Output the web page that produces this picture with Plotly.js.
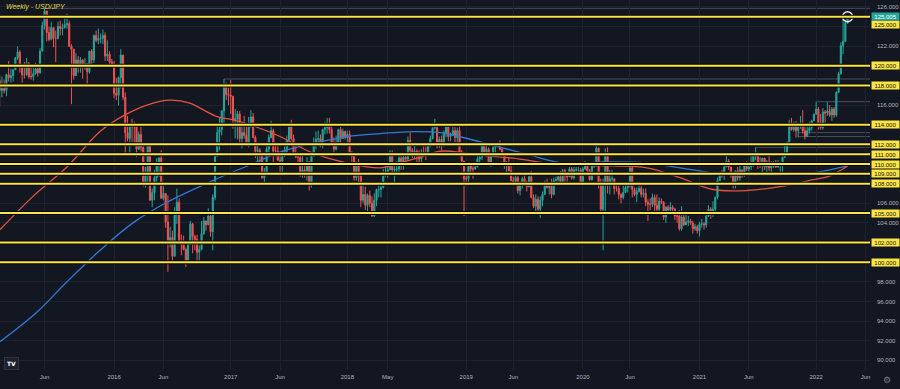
<!DOCTYPE html>
<html><head><meta charset="utf-8">
<script src="https://cdn.plot.ly/plotly-3.0.1.min.js"></script>
<style>html,body{margin:0;padding:0;background:#131722;}#chart{width:900px;height:389px;}</style>
</head><body><div id="chart"></div>
<script>
// Weekly USD/JPY candles, one per week starting Monday 2015-01-05
const firstWeek = '2015-01-05';
const firstOpen = 120.5;

const weeklyHigh = [
120.8,119.1,118.9,118.6,119.2,120.5,119.7,119.6,120.9,122.0,121.6,120.2,120.4,120.8,120.4,120.1,119.9,120.3,120.1,121.8,124.5,125.86,125.4,124.0,124.5,123.8,123.6,124.5,124.6,124.3,125.0,125.3,124.6,122.2,121.7,121.3,121.0,120.9,120.7,120.8,120.3,121.5,121.7,123.2,123.6,123.8,123.3,123.7,123.4,122.6,121.5,120.7,
120.5,118.8,118.9,121.7,121.1,117.3,114.9,114.0,114.6,114.3,114.1,113.3,113.8,111.8,109.7,111.9,111.9,107.5,109.4,110.6,110.7,111.4,107.9,107.0,106.8,103.6,103.2,105.6,107.5,106.5,102.8,102.7,101.5,102.0,104.2,104.0,102.8,102.8,101.7,104.2,104.6,104.2,105.5,105.0,106.9,111.0,113.9,114.8,115.5,118.66,118.3,117.8,
118.6,116.9,115.6,115.4,115.4,113.9,114.9,113.8,114.8,115.5,115.2,112.9,112.2,111.6,111.2,109.6,111.8,113.0,114.4,113.6,112.1,111.9,110.8,111.4,111.8,112.9,114.2,114.5,113.0,112.2,111.0,111.0,110.9,109.8,110.7,110.3,111.0,112.7,113.3,113.4,113.0,113.6,114.3,114.7,114.7,113.9,112.7,112.9,113.6,113.8,113.6,113.4,
113.4,113.4,111.3,110.9,110.2,110.5,108.9,107.9,107.7,107.0,107.3,106.7,107.0,107.5,107.8,107.9,109.5,110.0,110.0,111.4,111.4,109.8,110.3,110.9,110.8,111.1,111.1,112.8,113.2,111.6,112.2,111.5,111.4,111.5,111.8,111.8,112.2,112.9,113.7,114.6,113.9,112.8,112.9,113.4,114.1,114.0,113.2,114.0,113.8,113.7,113.8,111.4,110.1,
108.9,109.9,109.9,109.8,110.2,111.1,110.9,112.1,112.1,111.9,111.7,111.0,111.8,112.1,112.2,112.4,111.7,111.1,110.3,110.7,109.9,108.7,108.8,108.8,108.2,108.7,108.9,108.3,108.8,109.3,106.9,106.9,106.7,106.7,107.2,108.3,108.5,108.0,108.5,108.6,108.7,108.8,109.3,109.5,109.5,109.0,109.7,109.7,109.7,109.7,109.7,109.6,
109.7,110.3,110.2,109.5,110.0,110.1,112.2,111.7,108.5,108.5,111.6,111.7,109.4,109.4,108.1,108.0,107.8,107.0,107.8,108.1,108.1,109.9,109.8,107.6,107.6,108.2,107.8,107.5,107.5,106.4,106.5,107.0,106.9,106.9,106.6,106.5,106.2,105.7,105.8,106.1,105.8,105.5,105.0,105.3,105.7,104.8,104.8,104.7,104.4,104.2,103.9,103.8,
104.1,104.4,104.1,104.9,105.8,105.6,106.2,106.7,108.6,109.2,109.4,109.9,110.97,110.5,109.7,108.9,109.3,109.7,109.8,109.3,110.2,110.3,109.8,110.8,110.9,111.7,111.2,110.7,110.6,110.6,110.4,110.8,110.3,110.3,110.4,110.4,110.1,110.8,112.1,112.3,114.5,114.7,114.3,114.4,114.2,114.9,115.5,113.9,113.9,114.3,114.5,115.1,
116.35,115.8,115.1,115.7,115.5,116.3,116.0,115.8,115.8,117.4,119.4,122.4,125.1,124.7,125.1
];

const weeklyLow = [
118.1,115.85,116.8,117.2,116.9,118.4,118.3,118.4,119.6,120.6,119.3,118.3,118.7,119.0,118.7,118.6,118.5,119.1,118.9,119.2,121.5,123.7,122.5,122.5,122.6,121.9,120.4,122.7,123.1,123.1,123.8,123.8,122.0,116.1,118.6,119.0,119.3,119.3,118.7,119.6,118.1,119.2,120.1,120.3,122.4,122.2,122.3,122.2,120.5,120.5,120.1,120.0,
116.7,116.5,115.97,117.7,116.5,110.98,112.3,111.0,112.2,112.2,110.7,111.4,111.3,107.7,107.6,107.9,106.3,105.6,106.3,108.2,108.7,106.5,106.3,103.5,99.0,101.5,99.98,100.6,103.9,102.0,100.7,101.2,99.5,99.9,101.8,100.9,101.2,100.1,100.1,101.2,102.8,103.2,103.8,102.6,101.2,106.3,110.7,111.4,112.9,113.8,116.5,116.0,
115.1,113.6,112.6,112.5,112.1,111.6,112.6,112.1,111.7,113.7,112.6,110.6,110.1,110.1,108.5,108.1,109.3,111.0,112.6,110.2,110.8,110.3,109.1,108.8,110.7,110.9,112.1,112.4,110.9,110.6,109.9,108.7,108.6,108.6,108.3,107.3,107.6,110.9,111.5,112.0,111.7,111.6,113.0,113.1,113.1,112.0,111.1,111.4,112.0,112.0,112.6,112.5,
112.0,110.9,110.2,108.3,108.3,108.1,105.6,106.0,105.3,105.2,105.6,104.6,104.6,105.7,106.6,106.6,107.5,108.7,108.6,109.4,108.9,108.1,109.1,109.2,109.4,109.4,110.3,110.3,110.8,110.6,110.6,110.1,110.1,109.8,110.7,110.4,110.8,111.7,112.5,113.5,111.6,111.6,111.4,111.8,112.7,112.3,112.3,112.9,112.2,112.2,110.8,109.9,104.7,
107.8,107.9,109.2,108.5,109.4,109.7,110.2,110.4,110.8,110.8,109.8,109.7,110.8,110.8,111.8,111.4,110.9,109.5,109.0,109.3,108.3,107.8,108.0,107.0,106.8,107.5,107.8,107.2,107.6,106.5,105.5,105.1,105.1,104.5,105.7,106.9,107.5,106.9,106.5,106.8,108.2,108.2,107.9,108.2,108.2,108.2,108.7,108.4,108.4,109.2,109.2,107.9,
107.8,109.4,109.0,108.3,108.3,109.6,109.8,107.5,105.0,101.2,105.2,107.0,106.9,107.9,106.9,107.2,106.4,106.0,106.4,107.2,107.1,107.6,106.6,106.7,106.1,107.1,106.6,106.6,105.7,104.2,105.3,105.6,105.1,105.2,104.9,105.9,104.3,104.0,105.0,105.2,104.9,104.3,104.0,103.2,103.2,103.7,103.8,103.7,103.8,102.9,103.2,102.9,
102.6,103.5,103.3,103.5,104.6,104.4,104.6,105.0,106.4,108.3,108.6,108.4,109.7,109.4,108.6,107.5,107.5,108.3,108.3,108.6,108.7,109.3,109.2,109.4,109.7,110.4,109.5,109.6,109.1,109.4,109.1,109.3,109.1,109.6,109.6,109.6,109.1,109.1,110.6,110.8,112.1,113.4,113.3,112.7,112.7,113.6,113.1,112.5,113.0,113.1,113.4,114.4,
115.0,113.5,113.5,113.5,114.2,114.9,114.8,114.4,114.7,114.8,117.3,119.1,121.2,122.4,124.3
];

const weeklyClose = [
118.5,117.5,117.7,117.5,119.1,118.8,119.0,119.6,120.8,121.4,120.0,119.1,119.1,120.2,118.9,118.9,119.2,119.7,119.3,121.5,124.1,125.6,123.4,122.7,123.9,122.8,122.8,124.0,123.8,123.9,124.2,124.3,122.0,121.7,119.0,120.6,119.9,120.6,119.9,120.2,119.4,121.5,120.6,123.1,122.6,122.8,122.8,123.1,121.0,121.2,120.4,120.2,
117.2,117.0,118.8,121.1,116.8,113.2,112.6,114.0,113.8,113.8,111.5,113.0,111.7,108.1,108.8,111.8,106.3,107.1,108.6,110.2,110.6,106.5,107.0,104.1,102.2,102.5,100.6,104.8,106.1,102.1,101.8,101.3,100.2,101.8,103.9,102.6,102.3,101.0,101.3,102.9,104.2,103.8,104.7,103.1,106.6,110.9,113.2,113.5,115.4,117.9,117.1,117.0,
116.9,114.5,114.6,115.1,112.6,113.2,112.9,112.1,114.1,114.8,112.7,111.3,111.4,111.1,108.6,109.0,111.5,112.7,113.4,111.3,111.3,110.4,110.3,110.9,111.3,112.4,113.9,112.6,111.1,110.7,110.7,109.2,109.4,109.3,110.2,107.8,110.8,112.0,112.5,112.6,111.8,113.5,113.7,114.1,113.5,112.1,111.5,112.2,113.5,112.6,113.3,112.7,
113.0,111.1,110.8,108.6,110.2,108.8,106.3,106.9,105.8,106.8,106.0,104.7,106.3,107.4,107.4,107.6,109.0,109.1,109.4,110.8,109.4,109.5,109.5,110.6,109.9,110.7,110.5,112.4,111.4,111.1,111.3,110.9,110.5,111.2,111.0,111.0,112.1,112.6,113.7,113.7,112.2,112.5,111.9,113.2,113.8,112.8,112.9,113.4,112.7,113.4,111.2,110.3,108.5,
108.5,109.8,109.5,109.5,109.7,110.5,110.7,111.9,111.2,111.5,110.1,110.9,111.7,112.0,111.9,111.5,111.1,109.9,110.1,109.3,108.3,108.2,108.6,107.3,107.9,108.5,107.9,107.7,108.7,106.6,105.7,106.4,105.4,106.3,106.9,108.1,107.6,107.9,106.9,108.3,108.4,108.7,108.2,109.3,108.8,108.7,109.5,108.6,109.4,109.4,109.4,108.1,
109.5,110.1,109.3,108.4,109.8,109.8,111.6,108.1,105.4,107.9,110.8,107.9,108.5,108.5,107.5,107.5,106.9,106.6,107.1,107.6,107.8,109.6,107.4,106.9,107.2,107.5,106.9,107.0,106.1,105.9,105.9,106.6,105.8,105.4,106.2,106.1,104.6,105.6,105.3,105.6,105.4,104.7,104.7,103.4,104.6,103.8,104.1,104.2,104.0,103.4,103.6,103.2,
103.9,103.9,103.8,104.7,105.4,104.9,105.4,106.6,108.3,109.0,108.9,109.7,110.3,109.7,108.8,107.9,109.3,108.6,109.4,109.0,109.9,109.5,109.7,110.2,110.8,111.0,110.1,110.1,110.6,109.7,110.2,109.6,109.8,109.8,109.7,109.9,109.9,110.7,111.0,112.2,114.2,113.5,114.0,113.4,114.0,114.0,113.4,112.8,113.4,113.7,114.4,115.1,
115.6,114.2,113.7,115.3,115.2,115.4,115.0,115.6,115.0,117.3,119.2,122.05,122.5,124.35,125.0
];

// 100-week SMA (red)
const sma100Dates = ['2015-01-13','2015-04-26','2015-08-10','2015-11-21','2016-02-07','2016-04-25','2016-06-27','2016-08-28','2016-09-28','2016-11-23','2017-01-09','2017-03-03','2017-06-05','2017-09-16','2018-01-01','2018-04-13','2018-06-05','2018-08-16','2018-10-17','2018-12-19','2019-02-19','2019-06-02','2019-09-16','2019-12-28','2020-04-09','2020-07-24','2020-11-04','2021-02-15','2021-06-01','2021-09-12','2021-12-24','2022-02-15','2022-04-11'];
const sma100Values = [103.3,106.7,109.7,113.3,115.0,116.1,116.5,116.2,115.7,114.8,114.5,114.0,112.8,111.1,110.1,109.6,110.0,110.7,111.3,111.2,110.9,110.6,110.1,109.9,109.8,109.6,108.6,107.4,107.3,107.7,108.4,108.8,109.8];

// 200-week SMA (blue)
const sma200Dates = ['2015-01-13','2015-05-08','2015-08-10','2015-11-21','2016-03-03','2016-06-17','2016-11-20','2017-03-03','2017-06-05','2017-09-16','2018-01-01','2018-04-13','2018-07-25','2018-10-17','2018-12-28','2019-04-13','2019-07-25','2019-11-05','2020-02-29','2020-07-24','2020-11-04','2021-02-15','2021-06-01','2021-09-12','2021-12-24','2022-04-11'];
const sma200Values = [91.9,94.9,98.0,101.2,104.0,106.1,108.5,109.9,111.2,112.1,112.8,113.1,113.3,113.2,112.7,111.8,110.9,110.1,110.2,110.1,109.6,109.1,108.9,108.9,109.1,109.8];

// Drawn levels
const yellowLevels = [125,120,118,114,112,111,110,109,108,105,102,100];
const grayRayLevels = [125.86,118.66,116.35,111.7,113.2,112.8];
const grayRayStarts = ['2015-06-01','2016-12-12','2022-01-03','2021-06-28','2021-11-08','2021-11-08'];
const lastPriceLabel = '125.005';

// Axis ticks
const xTickVals = ['2015-06-01','2016-01-04','2016-06-06','2017-01-02','2017-06-05','2018-01-01','2018-05-07','2019-01-07','2019-06-03','2020-01-06','2020-06-01','2021-01-04','2021-06-07','2022-01-03','2022-06-06'];
const xTickText = ['Jun','2016','Jun','2017','Jun','2018','May','2019','Jun','2020','Jun','2021','Jun','2022','Jun'];
const yTickVals = [90,92,94,96,98,100,102,104,106,108,110,112,114,116,118,120,122,124,126];
const yTickText = ['90.000','92.000','94.000','96.000','98.000','','','104.000','106.000','','','','','116.000','','','122.000','','126.000'];

const X_START = '2015-01-13', X_END = '2022-06-20';

const t0 = Date.parse(firstWeek + 'T00:00:00Z');
const dates = weeklyClose.map((_, i) => new Date(t0 + i * 7 * 864e5).toISOString().slice(0, 10));
const open = weeklyClose.map((c, i) => i === 0 ? firstOpen : weeklyClose[i - 1]);
const high = weeklyHigh.map((h, i) => Math.max(h, open[i], weeklyClose[i]));
const low = weeklyLow.map((l, i) => Math.min(l, open[i], weeklyClose[i]));

const UP = '#26a69a', DOWN = '#ef5350', YEL = '#fbe445', TXT = '#b2b5be', GRID = '#1e222d';

const traces = [
  {type:'scatter', mode:'lines', x:sma200Dates, y:sma200Values, line:{color:'#3179d8', width:1.3, shape:'spline', smoothing:1}, hoverinfo:'skip'},
  {type:'scatter', mode:'lines', x:sma100Dates, y:sma100Values, line:{color:'#e5533d', width:1.3, shape:'spline', smoothing:1}, hoverinfo:'skip'},
  {type:'candlestick', x:dates, open:open, high:high, low:low, close:weeklyClose,
   increasing:{line:{color:UP, width:1}, fillcolor:UP},
   decreasing:{line:{color:DOWN, width:1}, fillcolor:DOWN},
   whiskerwidth:0, hoverinfo:'skip'},
  {type:'scatter', mode:'markers', x:[dates[dates.length-1]], y:[weeklyClose[weeklyClose.length-1]],
   marker:{symbol:'circle-open', size:10, color:'#e8e8e8', line:{width:1.5, color:'#e8e8e8'}}, hoverinfo:'skip'}
];

const shapes = [];
grayRayLevels.forEach((lv, i) => {
  shapes.push({type:'line', xref:'x', yref:'y', x0:grayRayStarts[i], x1:X_END, y0:lv, y1:lv, line:{color:'#4a4e5a', width:1}, layer:'below'});
});
yellowLevels.forEach(lv => {
  shapes.push({type:'line', xref:'paper', yref:'y', x0:0, x1:1, y0:lv, y1:lv, line:{color:'#07080b', width:4}});
  shapes.push({type:'line', xref:'paper', yref:'y', x0:0, x1:1, y0:lv, y1:lv, line:{color:YEL, width:2}});
});

const annotations = [];
yellowLevels.forEach(lv => {
  annotations.push({xref:'paper', yref:'y', x:1, y:lv, xanchor:'left', yanchor:'middle', xshift:1,
    yshift: lv === 125 ? -8 : 0, text:lv.toFixed(3), showarrow:false, bgcolor:YEL, width:27, height:7, borderpad:0,
    font:{family:'Liberation Sans, Arial, sans-serif', size:6, color:'#111111'}});
});
annotations.push({xref:'paper', yref:'y', x:1, y:Number(lastPriceLabel), xanchor:'left', yanchor:'middle', xshift:1, yshift:0,
  text:lastPriceLabel, showarrow:false, bgcolor:UP, width:27, height:7, borderpad:0,
  font:{family:'Liberation Sans, Arial, sans-serif', size:6, color:'#ffffff'}});
annotations.push({xref:'paper', yref:'paper', x:0, y:1, xanchor:'left', yanchor:'top', xshift:4, yshift:-1,
  text:'<i>Weekly - USD/JPY</i>', showarrow:false, font:{family:'Liberation Sans, Arial, sans-serif', size:7, color:'#e3dc4a'}});
annotations.push({xref:'paper', yref:'paper', x:0, y:0, xanchor:'left', yanchor:'bottom', xshift:4, yshift:0,
  text:'<b>TV</b>', showarrow:false, bgcolor:'#1c202b', bordercolor:'#2f3340', borderwidth:1, borderpad:2,
  font:{family:'DejaVu Sans, sans-serif', size:6, color:'#ffffff'}});
annotations.push({xref:'paper', yref:'paper', x:1, y:0, xanchor:'center', yanchor:'top', xshift:17, yshift:-3,
  text:'⚙', showarrow:false, font:{family:'DejaVu Sans, sans-serif', size:9, color:'#787b86'}});

const layout = {
  width:900, height:389,
  margin:{l:0, r:30, t:0, b:19},
  paper_bgcolor:'#131722', plot_bgcolor:'#131722',
  showlegend:false,
  xaxis:{type:'date', range:[X_START, X_END], tickmode:'array', tickvals:xTickVals, ticktext:xTickText,
    tickfont:{family:'Liberation Sans, Arial, sans-serif', size:6, color:TXT}, showgrid:true, gridcolor:GRID, gridwidth:1,
    zeroline:false, showline:false, ticks:'', rangeslider:{visible:false}, fixedrange:true, ticklabelstandoff:2},
  yaxis:{side:'right', range:[89.01, 126.71], tickmode:'array', tickvals:yTickVals, ticktext:yTickText,
    tickfont:{family:'Liberation Sans, Arial, sans-serif', size:6, color:TXT}, showgrid:true, gridcolor:GRID, gridwidth:1,
    zeroline:false, showline:false, ticks:'', fixedrange:true, ticklabelstandoff:6},
  shapes:shapes, annotations:annotations
};

Plotly.newPlot('chart', traces, layout, {staticPlot:true, displayModeBar:false});
</script>
</body></html>
